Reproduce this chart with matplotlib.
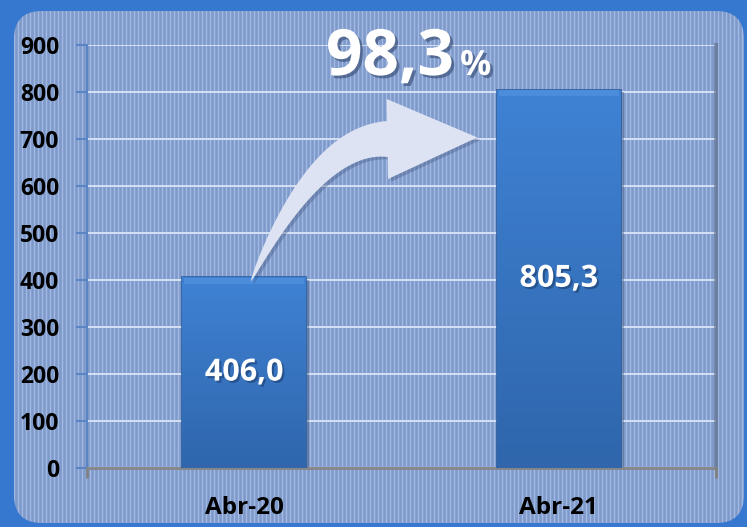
import numpy as np
import matplotlib
matplotlib.use("Agg")
import matplotlib.pyplot as plt
from matplotlib.patches import FancyBboxPatch, Polygon
import matplotlib.patheffects as pe

categories = ["Abr-20", "Abr-21"]
values = [406.0, 805.3]
value_labels = ["406,0", "805,3"]
growth_label = "98,3"
yticks = [0, 100, 200, 300, 400, 500, 600, 700, 800, 900]

plt.rcParams["font.family"] = ["Open Sans", "DejaVu Sans"]

W, H = 747, 527
fig = plt.figure(figsize=(W / 100, H / 100), dpi=100)
fig.patch.set_facecolor("#3677cf")

# background panel with vertical stripes
bg = fig.add_axes([0, 0, 1, 1])
bg.set_xlim(0, W)
bg.set_ylim(H, 0)
bg.axis("off")
panel = FancyBboxPatch((14, 11), 730, 512, boxstyle="round,pad=0,rounding_size=28",
                       facecolor="#7e9acb", edgecolor="none", zorder=0)
bg.add_patch(panel)
stripes = bg.vlines(np.arange(14, 745, 4), 0, H, color="#a4b9e1", linewidth=1.0, zorder=1)
stripes.set_clip_path(panel)

ax = fig.add_axes([87 / W, 1 - 468 / H, 629 / W, 423 / H])
ax.patch.set_alpha(0)
x = np.arange(len(categories))

ax.set_yticks(yticks)
ax.yaxis.grid(True, color="#d6e0f3", linewidth=1.4, zorder=0)
ax.set_axisbelow(True)

# bar shadows
ax.bar(x + 0.01, values, width=0.394, bottom=-6, color="#233f6a", alpha=0.35, zorder=2)
bars = ax.bar(x, values, width=0.394, color="#3b7bcc", edgecolor="#2d5c9c", linewidth=1.2, zorder=3)
grad = np.linspace(1, 0, 256).reshape(-1, 1)
cmap = matplotlib.colors.LinearSegmentedColormap.from_list("b", ["#2f66ac", "#3f82d4"])
for b in bars:
    im = ax.imshow(grad, extent=[b.get_x(), b.get_x() + b.get_width(), 0, b.get_height()],
                   cmap=cmap, aspect="auto", zorder=3.5)
    im.set_clip_path(b)
    # bevel at the top
    ax.bar(b.get_x() + b.get_width() / 2, 12, width=b.get_width() * 0.97,
           bottom=b.get_height() - 14, color="#5b9ae6", alpha=0.45, zorder=3.6)
ax.set_xlim(-0.5, 1.5)
ax.set_ylim(0, 900)

for xi, v, lab in zip(x, values, value_labels):
    ax.text(xi, v / 2, lab, ha="center", va="center", color="white", fontsize=22,
            fontweight="bold", zorder=5,
            path_effects=[pe.withSimplePatchShadow(offset=(1.5, -1.5), shadow_rgbFace="#1c3c6c", alpha=0.6)])

ax.set_xticks(x)
ax.set_xticklabels(categories, fontsize=17.5, fontweight="bold")
ax.set_xticks([-0.5, 1.5], minor=True)
ax.tick_params(axis="x", which="major", length=0, pad=20)
ax.tick_params(axis="x", which="minor", length=7, width=2, color="#808080")
ax.tick_params(axis="y", length=8, color="#5b84c4", width=1.5, pad=12, labelsize=16.5)
for lab in ax.get_yticklabels():
    lab.set_fontweight("bold")

ax.spines["top"].set_visible(False)
ax.spines["left"].set_color("#5b84c4")
ax.spines["left"].set_linewidth(1.5)
ax.spines["bottom"].set_color("#858585")
ax.spines["bottom"].set_linewidth(2)
ax.spines["right"].set_color("#5c6b85")
ax.spines["right"].set_linewidth(3)
ax.spines["right"].set_alpha(0.6)

# overlay in display pixels for the curved arrow and growth label
fig.canvas.draw()
ov = fig.add_axes([0, 0, 1, 1])
ov.set_xlim(0, W)
ov.set_ylim(0, H)
ov.axis("off")
ov.patch.set_alpha(0)

p0 = ax.transData.transform((0.02, values[0] - 10))
p2 = ax.transData.transform((0.455, 700))
p1 = np.array([p0[0] + 66, p2[1]])
t = np.linspace(0, 1, 60)[:, None]
pts = (1 - t) ** 2 * p0 + 2 * (1 - t) * t * p1 + t ** 2 * p2
d = np.gradient(pts, axis=0)
nrm = np.stack([-d[:, 1], d[:, 0]], axis=1)
nrm /= np.linalg.norm(nrm, axis=1, keepdims=True)
half = 18 * t[:, 0] ** 0.7
upper = pts + nrm * half[:, None]
lower = pts - nrm * half[:, None]
tdir = d[-1] / np.linalg.norm(d[-1])
tip = p2 + tdir * 90
shape = np.vstack([lower, p2 - nrm[-1] * 40, tip, p2 + nrm[-1] * 40, upper[::-1]])
ov.add_patch(Polygon(shape, closed=True, facecolor="#dde3f2", edgecolor="none",
                     path_effects=[pe.withSimplePatchShadow(offset=(2, -2), shadow_rgbFace="#3a4f78", alpha=0.35)]))

shadow = [pe.withSimplePatchShadow(offset=(2, -2), shadow_rgbFace="#30476e", alpha=0.6)]
ov.text(326, H - 75, growth_label, ha="left", va="baseline", color="white", fontsize=46,
        fontweight="bold", path_effects=shadow)
ov.text(460, H - 75, "%", ha="left", va="baseline", color="white", fontsize=25,
        fontweight="bold", path_effects=shadow)

fig.savefig("out.png", dpi=100, facecolor=fig.get_facecolor())
